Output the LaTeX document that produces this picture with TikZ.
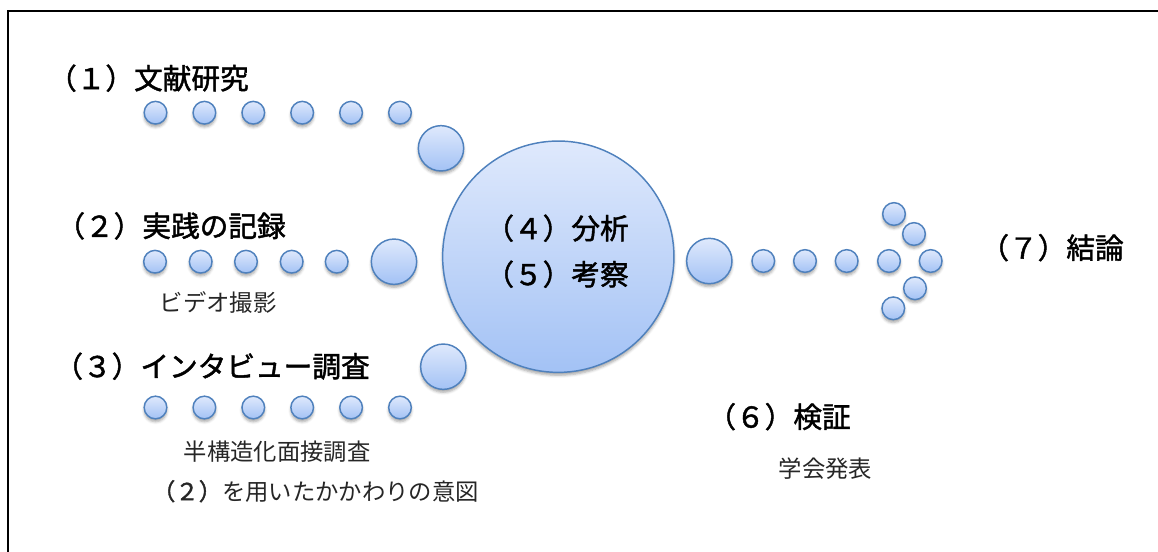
\documentclass[tikz,border=0pt]{standalone}
\usepackage{fontspec}
\newfontfamily\jp{Noto Sans CJK JP}
\newfontfamily\jph{Noto Sans CJK JP}[FakeBold=1.6]
\usetikzlibrary{shadows.blur}
\definecolor{ctop}{RGB}{223,233,252}
\definecolor{cbot}{RGB}{163,194,245}
\definecolor{cline}{RGB}{79,129,189}
\tikzset{
  bub/.style={circle, draw=cline, line width=1.1pt, top color=ctop, bottom color=cbot, inner sep=0pt,
    blur shadow={shadow xshift=0pt, shadow yshift=-2.2pt, shadow blur radius=2pt, shadow opacity=35}},
  sbub/.style={bub, minimum size=17pt},
  mbub/.style={bub, minimum size=34pt},
  head/.style={font=\jph\fontsize{21.5}{24}\selectfont, inner sep=0pt, text height=0.88em, text depth=0.12em, anchor=east},
  sub/.style={font=\jp\fontsize{17.5}{20}\selectfont, inner sep=0pt, text height=0.88em, text depth=0.12em, text=black!85},
}
\begin{document}
\begin{tikzpicture}[x=0.75pt,y=-0.75pt]
\useasboundingbox (0,0) rectangle (1158,551);
\draw[line width=1.5pt] (8,570) -- (8,11) -- (1175,11);
% row 1
\foreach \i in {0,...,5} \node[sbub] (a\i) at ({155.5+48.9*\i},112.7) {};
\node[mbub] (ab) at (441,148.3) {};
% row 2
\foreach \i/\x in {0/155,1/200.7,2/246,3/291.7,4/336.7} \node[sbub] (b\i) at (\x,261.7) {};
\node[mbub] (bb) at (394,261.7) {};
% row 3
\foreach \i in {0,...,5} \node[sbub] (c\i) at ({155.5+48.9*\i},407.5) {};
\node[mbub] (cb) at (443.3,366.7) {};
% main
\node[bub, minimum size=173.5pt] (main) at (558.3,256.7) {};
% right
\node[mbub] (rb) at (709.3,261) {};
\foreach \i/\x in {0/763.3,1/805,2/846.7,3/889,4/930.7} \node[sbub] (r\i) at (\x,261) {};
\node[sbub] (t1) at (894,214) {};
\node[sbub] (t2) at (914,234) {};
\node[sbub] (t3) at (915,288.3) {};
\node[sbub] (t4) at (893.3,308.3) {};
% texts
\node[head] (h1) at (249,84) {（１）文献研究};
\node[head] (h2) at (286,231.7) {（２）実践の記録};
\node[head] (h3) at (370,372) {（３）インタビュー調査};
\node[head] (h4) at (629,234) {（４）分析};
\node[head] (h5) at (629,280) {（５）考察};
\node[head] (h6) at (851,422.5) {（６）検証};
\node[head] (h7) at (1124,253.5) {（７）結論};
\node[sub] (s2) at (218.3,306) {ビデオ撮影};
\node[sub] (s3) at (277,455) {半構造化面接調査};
\node[sub, anchor=east] (s3b) at (479,495) {{\jph （２）}を用いたかかわりの意図};
\node[sub] (s6) at (825.5,472) {学会発表};
\end{tikzpicture}
\end{document}
